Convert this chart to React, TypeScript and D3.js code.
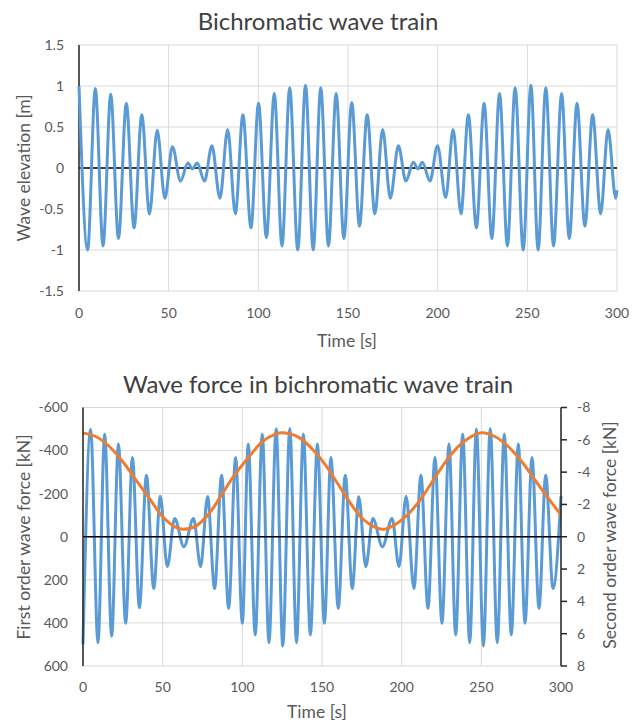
import React, { useEffect, useRef } from "react";
import * as d3 from "d3";

// extremes of the wave elevation
const waveTime = [
  0, 4.8, 9.1, 13.4, 17.7, 22.0, 26.4, 30.7, 35.0, 39.3, 43.6, 47.9, 52.1, 56.6, 60.7, 63.3, 65.9,
  70.0, 74.1, 78.6, 82.9, 87.2, 91.4, 95.9, 100.1, 104.5, 108.9, 113.2, 117.5, 122.0, 126.3, 130.6,
  134.8, 139.1, 143.4, 147.7, 152.1, 156.4, 160.7, 165.0, 169.3, 173.6, 178.1, 182.3, 186.4, 189.0,
  191.5, 195.7, 199.9, 204.5, 208.6, 213.0, 217.1, 221.6, 225.9, 230.2, 234.5, 238.9, 243.2, 247.7,
  252.0, 256.0, 260.3, 264.6, 269.1, 273.4, 277.7, 282.1, 286.4, 290.9, 295.0, 299.3, 300,
];
const waveElevation = [
  1.0, -1.0, 0.97, -0.95, 0.9, -0.86, 0.79, -0.73, 0.65, -0.56, 0.46, -0.37, 0.26, -0.16, 0.06, -0.01,
  0.06, -0.16, 0.27, -0.37, 0.47, -0.56, 0.65, -0.73, 0.79, -0.85, 0.91, -0.95, 0.98, -1.0, 1.01, -1.0,
  0.98, -0.95, 0.91, -0.86, 0.8, -0.71, 0.65, -0.56, 0.47, -0.37, 0.27, -0.16, 0.07, -0.01, 0.07, -0.16,
  0.27, -0.36, 0.47, -0.56, 0.65, -0.73, 0.79, -0.86, 0.91, -0.95, 0.98, -1.0, 1.01, -1.0, 0.98, -0.95,
  0.91, -0.86, 0.79, -0.71, 0.65, -0.56, 0.47, -0.37, -0.27,
];

// extremes of the first order force [kN]
const forceTime = [
  0, 4.8, 9.4, 13.6, 18.0, 22.2, 26.8, 31.0, 35.4, 39.8, 44.4, 48.5, 52.9, 57.5, 63.3, 69.4, 73.8,
  78.2, 82.6, 87.0, 91.4, 95.8, 100.0, 103.7, 108.1, 112.5, 116.7, 121.2, 125.4, 129.8, 134.0, 138.3,
  142.7, 147.1, 151.5, 155.6, 160.2, 164.6, 169.0, 173.1, 177.5, 181.9, 187.9, 194.0, 198.3, 202.8,
  207.7, 212.1, 216.5, 220.9, 225.3, 229.7, 233.9, 238.3, 242.7, 246.9, 251.3, 255.6, 260.0, 264.4,
  268.8, 273.2, 277.4, 281.8, 286.2, 290.4, 295.0, 300,
];
const firstOrderForce = [
  500, -498, 492, -477, 462, -430, 402, -368, 330, -286, 240, -188, 139, -85, 46, -85, 139, -187, 240,
  -286, 332, -368, 402, -430, 456, -477, 492, -500, 507, -503, 492, -477, 456, -430, 402, -368, 332,
  -286, 240, -186, 139, -85, 46, -85, 139, -188, 240, -286, 332, -368, 402, -430, 456, -477, 492, -500,
  507, -503, 492, -477, 456, -430, 402, -368, 332, -286, 240, -190,
];

// second order force [kN], right axis
const secondTime = [
  0, 8.3, 16.7, 25, 33.3, 41.7, 50, 58.3, 62.9, 70.8, 79.2, 87.5, 95.8, 104.2, 112.5, 120.8, 125.5,
  135.4, 143.7, 152.1, 160.4, 168.7, 177, 187.5, 194.2, 202.5, 210.8, 219.2, 227.5, 235.8, 244.2,
  250.4, 258.7, 267.1, 275.4, 283.7, 292.1, 300,
];
const secondOrderForce = [
  -6.43, -6.19, -5.57, -4.64, -3.51, -2.37, -1.24, -0.58, -0.46, -0.66, -1.44, -2.68, -3.92, -4.95,
  -5.88, -6.35, -6.43, -6.15, -5.45, -4.45, -3.2, -1.95, -0.98, -0.46, -0.66, -1.24, -2.17, -3.4, -4.64,
  -5.61, -6.23, -6.43, -6.19, -5.57, -4.64, -3.51, -2.37, -1.35,
];

const timeTicks = [0, 50, 100, 150, 200, 250, 300];
const elevationTicks = [-1.5, -1, -0.5, 0, 0.5, 1, 1.5];
const firstTicks = [-600, -400, -200, 0, 200, 400, 600];
const secondTicks = [-8, -6, -4, -2, 0, 2, 4, 6, 8];

const BLUE = "#5B9BD5";
const ORANGE = "#ED7D31";
const GRID = "#D9D9D9";
const LABEL = "#595959";
const FONT = "Lato, 'Open Sans', sans-serif";

function grid(g, x, y, xt, yt) {
  g.selectAll(".vg")
    .data(xt)
    .join("line")
    .attr("x1", d => x(d))
    .attr("x2", d => x(d))
    .attr("y1", y.range()[0])
    .attr("y2", y.range()[1])
    .attr("stroke", GRID);
  g.selectAll(".hg")
    .data(yt)
    .join("line")
    .attr("x1", x.range()[0])
    .attr("x2", x.range()[1])
    .attr("y1", d => y(d))
    .attr("y2", d => y(d))
    .attr("stroke", GRID);
}

export default function App() {
  const ref = useRef(null);

  useEffect(() => {
    const svg = d3.select(ref.current);
    svg.selectAll("*").remove();
    svg.attr("font-family", FONT);

    // ---------- top panel ----------
    const x1 = d3.scaleLinear().domain([0, 300]).range([79, 617]);
    const y1 = d3.scaleLinear().domain([-1.5, 1.5]).range([291, 45]);
    const top = svg.append("g");
    grid(top.append("g"), x1, y1, timeTicks, elevationTicks);

    top.append("line")
      .attr("x1", x1(0)).attr("x2", x1(300))
      .attr("y1", y1(0)).attr("y2", y1(0))
      .attr("stroke", "#000").attr("stroke-width", 1.5);
    top.append("line")
      .attr("x1", x1(0)).attr("x2", x1(0))
      .attr("y1", y1(-1.5)).attr("y2", y1(1.5))
      .attr("stroke", "#262626").attr("stroke-width", 1.5);

    const waveLine = d3.line()
      .x(i => x1(waveTime[i]))
      .y(i => y1(waveElevation[i]))
      .curve(d3.curveMonotoneX);
    top.append("path")
      .attr("d", waveLine(d3.range(waveTime.length)))
      .attr("fill", "none")
      .attr("stroke", BLUE)
      .attr("stroke-width", 3);

    top.selectAll(".yt")
      .data(elevationTicks)
      .join("text")
      .attr("x", 64)
      .attr("y", d => y1(d))
      .attr("dy", "0.35em")
      .attr("text-anchor", "end")
      .attr("font-size", 14)
      .attr("fill", LABEL)
      .text(d => String(d));
    top.selectAll(".xt")
      .data(timeTicks)
      .join("text")
      .attr("x", d => x1(d))
      .attr("y", 318)
      .attr("text-anchor", "middle")
      .attr("font-size", 14)
      .attr("fill", LABEL)
      .text(d => String(d));
    top.append("text")
      .attr("x", 347).attr("y", 347)
      .attr("text-anchor", "middle")
      .attr("font-size", 17.5)
      .attr("fill", LABEL)
      .text("Time [s]");
    top.append("text")
      .attr("transform", "translate(30,168) rotate(-90)")
      .attr("text-anchor", "middle")
      .attr("font-size", 17.5)
      .attr("fill", LABEL)
      .text("Wave elevation [m]");
    top.append("text")
      .attr("x", 318).attr("y", 30)
      .attr("text-anchor", "middle")
      .attr("font-size", 24)
      .attr("fill", "#404040")
      .text("Bichromatic wave train");

    // ---------- bottom panel ----------
    const x2 = d3.scaleLinear().domain([0, 300]).range([83, 561]);
    const yL = d3.scaleLinear().domain([-600, 600]).range([407.5, 666]);
    const yR = d3.scaleLinear().domain([-8, 8]).range([407.5, 666]);
    const bot = svg.append("g");
    grid(bot.append("g"), x2, yL, timeTicks, firstTicks);

    const forceLine = d3.line()
      .x(i => x2(forceTime[i]))
      .y(i => yL(firstOrderForce[i]))
      .curve(d3.curveMonotoneX);
    bot.append("path")
      .attr("d", forceLine(d3.range(forceTime.length)))
      .attr("fill", "none")
      .attr("stroke", BLUE)
      .attr("stroke-width", 3);

    bot.append("line")
      .attr("x1", x2(0)).attr("x2", x2(300))
      .attr("y1", yL(0)).attr("y2", yL(0))
      .attr("stroke", "#000").attr("stroke-width", 1.5);

    const secondLine = d3.line()
      .x(i => x2(secondTime[i]))
      .y(i => yR(secondOrderForce[i]))
      .curve(d3.curveCatmullRom);
    bot.append("path")
      .attr("d", secondLine(d3.range(secondTime.length)))
      .attr("fill", "none")
      .attr("stroke", ORANGE)
      .attr("stroke-width", 3);

    bot.append("line")
      .attr("x1", x2(0)).attr("x2", x2(0))
      .attr("y1", yL(-600)).attr("y2", yL(600))
      .attr("stroke", "#262626").attr("stroke-width", 1.5);
    bot.append("line")
      .attr("x1", x2(300)).attr("x2", x2(300))
      .attr("y1", yR(-8)).attr("y2", yR(8))
      .attr("stroke", "#262626").attr("stroke-width", 1.5);
    bot.selectAll(".rtk")
      .data(secondTicks)
      .join("line")
      .attr("x1", x2(300)).attr("x2", x2(300) + 6)
      .attr("y1", d => yR(d)).attr("y2", d => yR(d))
      .attr("stroke", "#262626").attr("stroke-width", 1.5);

    bot.selectAll(".ylt")
      .data(firstTicks)
      .join("text")
      .attr("x", 68)
      .attr("y", d => yL(d))
      .attr("dy", "0.35em")
      .attr("text-anchor", "end")
      .attr("font-size", 14)
      .attr("fill", LABEL)
      .text(d => String(d));
    bot.selectAll(".yrt")
      .data(secondTicks)
      .join("text")
      .attr("x", 577)
      .attr("y", d => yR(d))
      .attr("dy", "0.35em")
      .attr("font-size", 14)
      .attr("fill", LABEL)
      .text(d => String(d));
    bot.selectAll(".xt")
      .data(timeTicks)
      .join("text")
      .attr("x", d => x2(d))
      .attr("y", 692)
      .attr("text-anchor", "middle")
      .attr("font-size", 14)
      .attr("fill", LABEL)
      .text(d => String(d));
    bot.append("text")
      .attr("x", 317).attr("y", 718)
      .attr("text-anchor", "middle")
      .attr("font-size", 17.5)
      .attr("fill", LABEL)
      .text("Time [s]");
    bot.append("text")
      .attr("transform", "translate(30,537) rotate(-90)")
      .attr("text-anchor", "middle")
      .attr("font-size", 17.5)
      .attr("fill", LABEL)
      .text("First order wave force [kN]");
    bot.append("text")
      .attr("transform", "translate(616,535) rotate(-90)")
      .attr("text-anchor", "middle")
      .attr("font-size", 17.5)
      .attr("fill", LABEL)
      .text("Second order wave force [kN]");
    bot.append("text")
      .attr("x", 318).attr("y", 393)
      .attr("text-anchor", "middle")
      .attr("font-size", 24)
      .attr("fill", "#404040")
      .text("Wave force in bichromatic wave train");
  }, []);

  return (
    <svg
      ref={ref}
      width={638}
      height={725}
      style={{ position: "absolute", left: 0, top: 0, background: "#fff" }}
    />
  );
}
